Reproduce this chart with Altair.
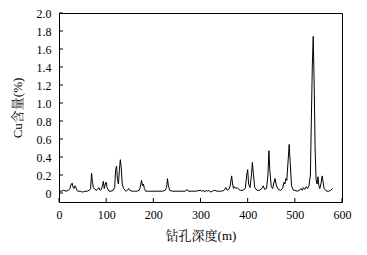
import altair as alt
import pandas as pd

depth = [0, 5, 10, 15, 20, 23, 26, 28, 30, 32, 34, 36, 38, 40, 45, 50, 55, 60, 64, 67,
         69, 71, 73, 76, 80, 83, 85, 87, 90, 92, 94, 96, 98, 100, 102, 104, 106, 110, 115, 118,
         120, 122, 124, 126, 128, 130, 132, 134, 137, 140, 143, 146, 148, 150, 155, 160, 165, 170, 172, 175,
         177, 179, 181, 184, 190, 200, 210, 220, 225, 228, 230, 232, 235, 240, 250, 260, 265, 268, 271, 274,
         280, 290, 300, 303, 306, 309, 312, 315, 318, 321, 325, 330, 335, 340, 345, 350, 354, 357, 360, 363,
         366, 368, 370, 372, 375, 378, 381, 385, 390, 395, 398, 400, 402, 405, 408, 410, 412, 415, 420, 425,
         430, 433, 436, 440, 443, 445, 447, 450, 453, 455, 458, 461, 465, 470, 474, 477, 479, 481, 483, 485,
         488, 490, 493, 497, 500, 505, 510, 513, 516, 518, 521, 524, 527, 530, 533, 535, 537, 539, 541, 543,
         545, 547, 549, 551, 553, 556, 558, 560, 562, 565, 568, 572, 576, 580]
cu = [0.02, 0.02, 0.03, 0.02, 0.03, 0.05, 0.10, 0.11, 0.06, 0.05, 0.08, 0.06, 0.03, 0.02, 0.02, 0.01, 0.02, 0.02, 0.03, 0.05,
      0.22, 0.12, 0.06, 0.04, 0.03, 0.05, 0.06, 0.03, 0.04, 0.08, 0.13, 0.05, 0.10, 0.12, 0.06, 0.04, 0.02, 0.02, 0.03, 0.06,
      0.25, 0.30, 0.15, 0.10, 0.25, 0.37, 0.28, 0.10, 0.05, 0.03, 0.02, 0.04, 0.05, 0.03, 0.02, 0.02, 0.02, 0.03, 0.06, 0.14,
      0.08, 0.10, 0.05, 0.02, 0.02, 0.02, 0.02, 0.02, 0.03, 0.06, 0.16, 0.08, 0.03, 0.02, 0.02, 0.02, 0.02, 0.02, 0.04, 0.02,
      0.02, 0.02, 0.03, 0.02, 0.03, 0.01, 0.03, 0.02, 0.03, 0.01, 0.02, 0.03, 0.02, 0.02, 0.02, 0.03, 0.06, 0.03, 0.04, 0.08,
      0.19, 0.10, 0.05, 0.07, 0.05, 0.06, 0.04, 0.03, 0.03, 0.05, 0.20, 0.26, 0.10, 0.06, 0.20, 0.34, 0.22, 0.06, 0.03, 0.03,
      0.05, 0.08, 0.04, 0.05, 0.20, 0.47, 0.25, 0.07, 0.05, 0.10, 0.16, 0.08, 0.04, 0.03, 0.05, 0.12, 0.10, 0.16, 0.14, 0.30,
      0.54, 0.35, 0.08, 0.03, 0.03, 0.02, 0.03, 0.05, 0.03, 0.06, 0.04, 0.07, 0.05, 0.08, 0.20, 0.80, 1.40, 1.74, 1.20, 0.50,
      0.15, 0.10, 0.18, 0.08, 0.05, 0.12, 0.19, 0.12, 0.05, 0.03, 0.02, 0.02, 0.03, 0.05]

x_ticks = [0, 100, 200, 300, 400, 500, 600]
y_ticks = [0, 0.2, 0.4, 0.6, 0.8, 1.0, 1.2, 1.4, 1.6, 1.8, 2.0]

df = pd.DataFrame({"depth": depth, "cu": cu})
xt = pd.DataFrame({"depth": x_ticks})
yt = pd.DataFrame({"cu": y_ticks})

FONT = "Liberation Serif, Noto Serif CJK SC, Noto Sans CJK SC"

xscale = alt.Scale(domain=[0, 600], nice=False, zero=False)
yscale = alt.Scale(domain=[-0.1, 2.0], nice=False, zero=False)

xaxis = alt.Axis(values=x_ticks, title="钻孔深度(m)", format="d",
                 ticks=False, tickSize=0, domain=False, grid=False,
                 labelOverlap=False, labelFlush=False,
                 labelPadding=7, titlePadding=9)
yaxis = alt.Axis(values=y_ticks, title="Cu含量(%)",
                 labelExpr="datum.value == 0 ? '0' : format(datum.value, '.1f')",
                 ticks=False, tickSize=0, domain=False, grid=False,
                 labelOverlap=False, labelFlush=False,
                 labelPadding=8, titlePadding=12)

line = alt.Chart(df).mark_line(color="black", strokeWidth=1, clip=True).encode(
    x=alt.X("depth:Q", scale=xscale, axis=xaxis),
    y=alt.Y("cu:Q", scale=yscale, axis=yaxis),
)

ytick_marks = alt.Chart(yt).mark_rule(color="black", strokeWidth=1).encode(
    y=alt.Y("cu:Q", scale=yscale, axis=yaxis),
    x=alt.value(0), x2=alt.value(4),
)
xtick_marks = alt.Chart(xt).mark_rule(color="black", strokeWidth=1).encode(
    x=alt.X("depth:Q", scale=xscale, axis=xaxis),
    y=alt.value(189), y2=alt.value(185),
)

chart = alt.layer(line, ytick_marks, xtick_marks).properties(
    width=283, height=189,
    background="white",
    autosize=alt.AutoSizeParams(type="none"),
    padding={"left": 59, "top": 13, "right": 25, "bottom": 53},
).configure_view(
    stroke="black", strokeWidth=1
).configure_axis(
    labelFont=FONT, titleFont=FONT, labelFontSize=12, titleFontSize=13,
    titleFontWeight="normal", labelColor="black", titleColor="black"
)

chart.save("out.html", embed_options={"renderer": "svg", "actions": False})
